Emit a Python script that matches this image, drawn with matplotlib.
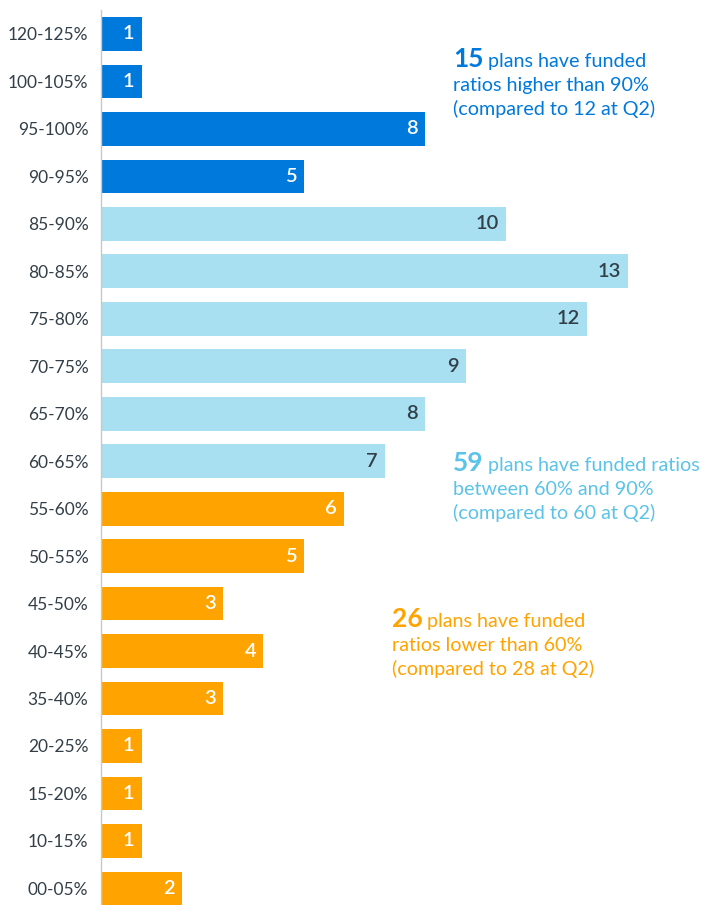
import matplotlib
matplotlib.use("Agg")
import matplotlib.pyplot as plt

plt.rcParams['font.family'] = ['Lato', 'DejaVu Sans']

ranges = ["120-125%", "100-105%", "95-100%", "90-95%", "85-90%", "80-85%",
          "75-80%", "70-75%", "65-70%", "60-65%", "55-60%", "50-55%",
          "45-50%", "40-45%", "35-40%", "20-25%", "15-20%", "10-15%", "00-05%"]
counts = [1, 1, 8, 5, 10, 13, 12, 9, 8, 7, 6, 5, 3, 4, 3, 1, 1, 1, 2]
groups = ["high"] * 4 + ["mid"] * 6 + ["low"] * 9

colors = {"high": "#0079dc", "mid": "#a8dff1", "low": "#ffa300"}
label_colors = {"high": "white", "mid": "#333f48", "low": "white"}
note_colors = {"high": "#0079dc", "mid": "#5cc3e8", "low": "#ffa300"}

# (group, big number, text lines, left x px, first baseline px)
notes = [
    ("high", "15", ["plans have funded", "ratios higher than 90%", "(compared to 12 at Q2)"], 453, 67),
    ("mid", "59", ["plans have funded ratios", "between 60% and 90%", "(compared to 60 at Q2)"], 453, 471),
    ("low", "26", ["plans have funded", "ratios lower than 60%", "(compared to 28 at Q2)"], 392, 627),
]

W, H = 704, 905
fig = plt.figure(figsize=(W / 100, H / 100), dpi=100)
ax = fig.add_axes([101 / W, 0, 1 - 101 / W, 1])

y = list(range(len(ranges)))
bars = ax.barh(y, counts, height=0.71, color=[colors[g] for g in groups])
ax.set_xlim(0, (W - 101) / 40.5)
ax.set_ylim(18.35, -0.716)

for b, v, g in zip(bars, counts, groups):
    ax.text(b.get_width() - 0.17, b.get_y() + b.get_height() / 2, str(v),
            ha="right", va="center", fontsize=14.5, fontweight="semibold",
            color=label_colors[g])

ax.set_yticks(y)
ax.set_yticklabels(ranges, fontsize=12.5, color="#333f48")
ax.tick_params(axis="y", length=0, pad=9)
ax.set_xticks([])
for s in ["top", "right", "bottom"]:
    ax.spines[s].set_visible(False)
ax.spines["left"].set_color("#c8c8c8")
ax.spines["left"].set_linewidth(1)
ax.spines["left"].set_bounds(-0.5, 18.35)

fig.canvas.draw()
renderer = fig.canvas.get_renderer()
for g, num, lines, x0, base in notes:
    c = note_colors[g]
    t = fig.text(x0 / W, 1 - base / H, num, fontsize=19, fontweight="bold",
                 color=c, va="baseline", ha="left")
    bb = t.get_window_extent(renderer)
    fig.text((bb.x1 + 4) / W, 1 - base / H, lines[0], fontsize=14.2,
             color=c, va="baseline", ha="left")
    for i, ln in enumerate(lines[1:], start=1):
        fig.text(x0 / W, 1 - (base + 24 * i) / H, ln, fontsize=14.2,
                 color=c, va="baseline", ha="left")

fig.savefig("out.png", dpi=100)
